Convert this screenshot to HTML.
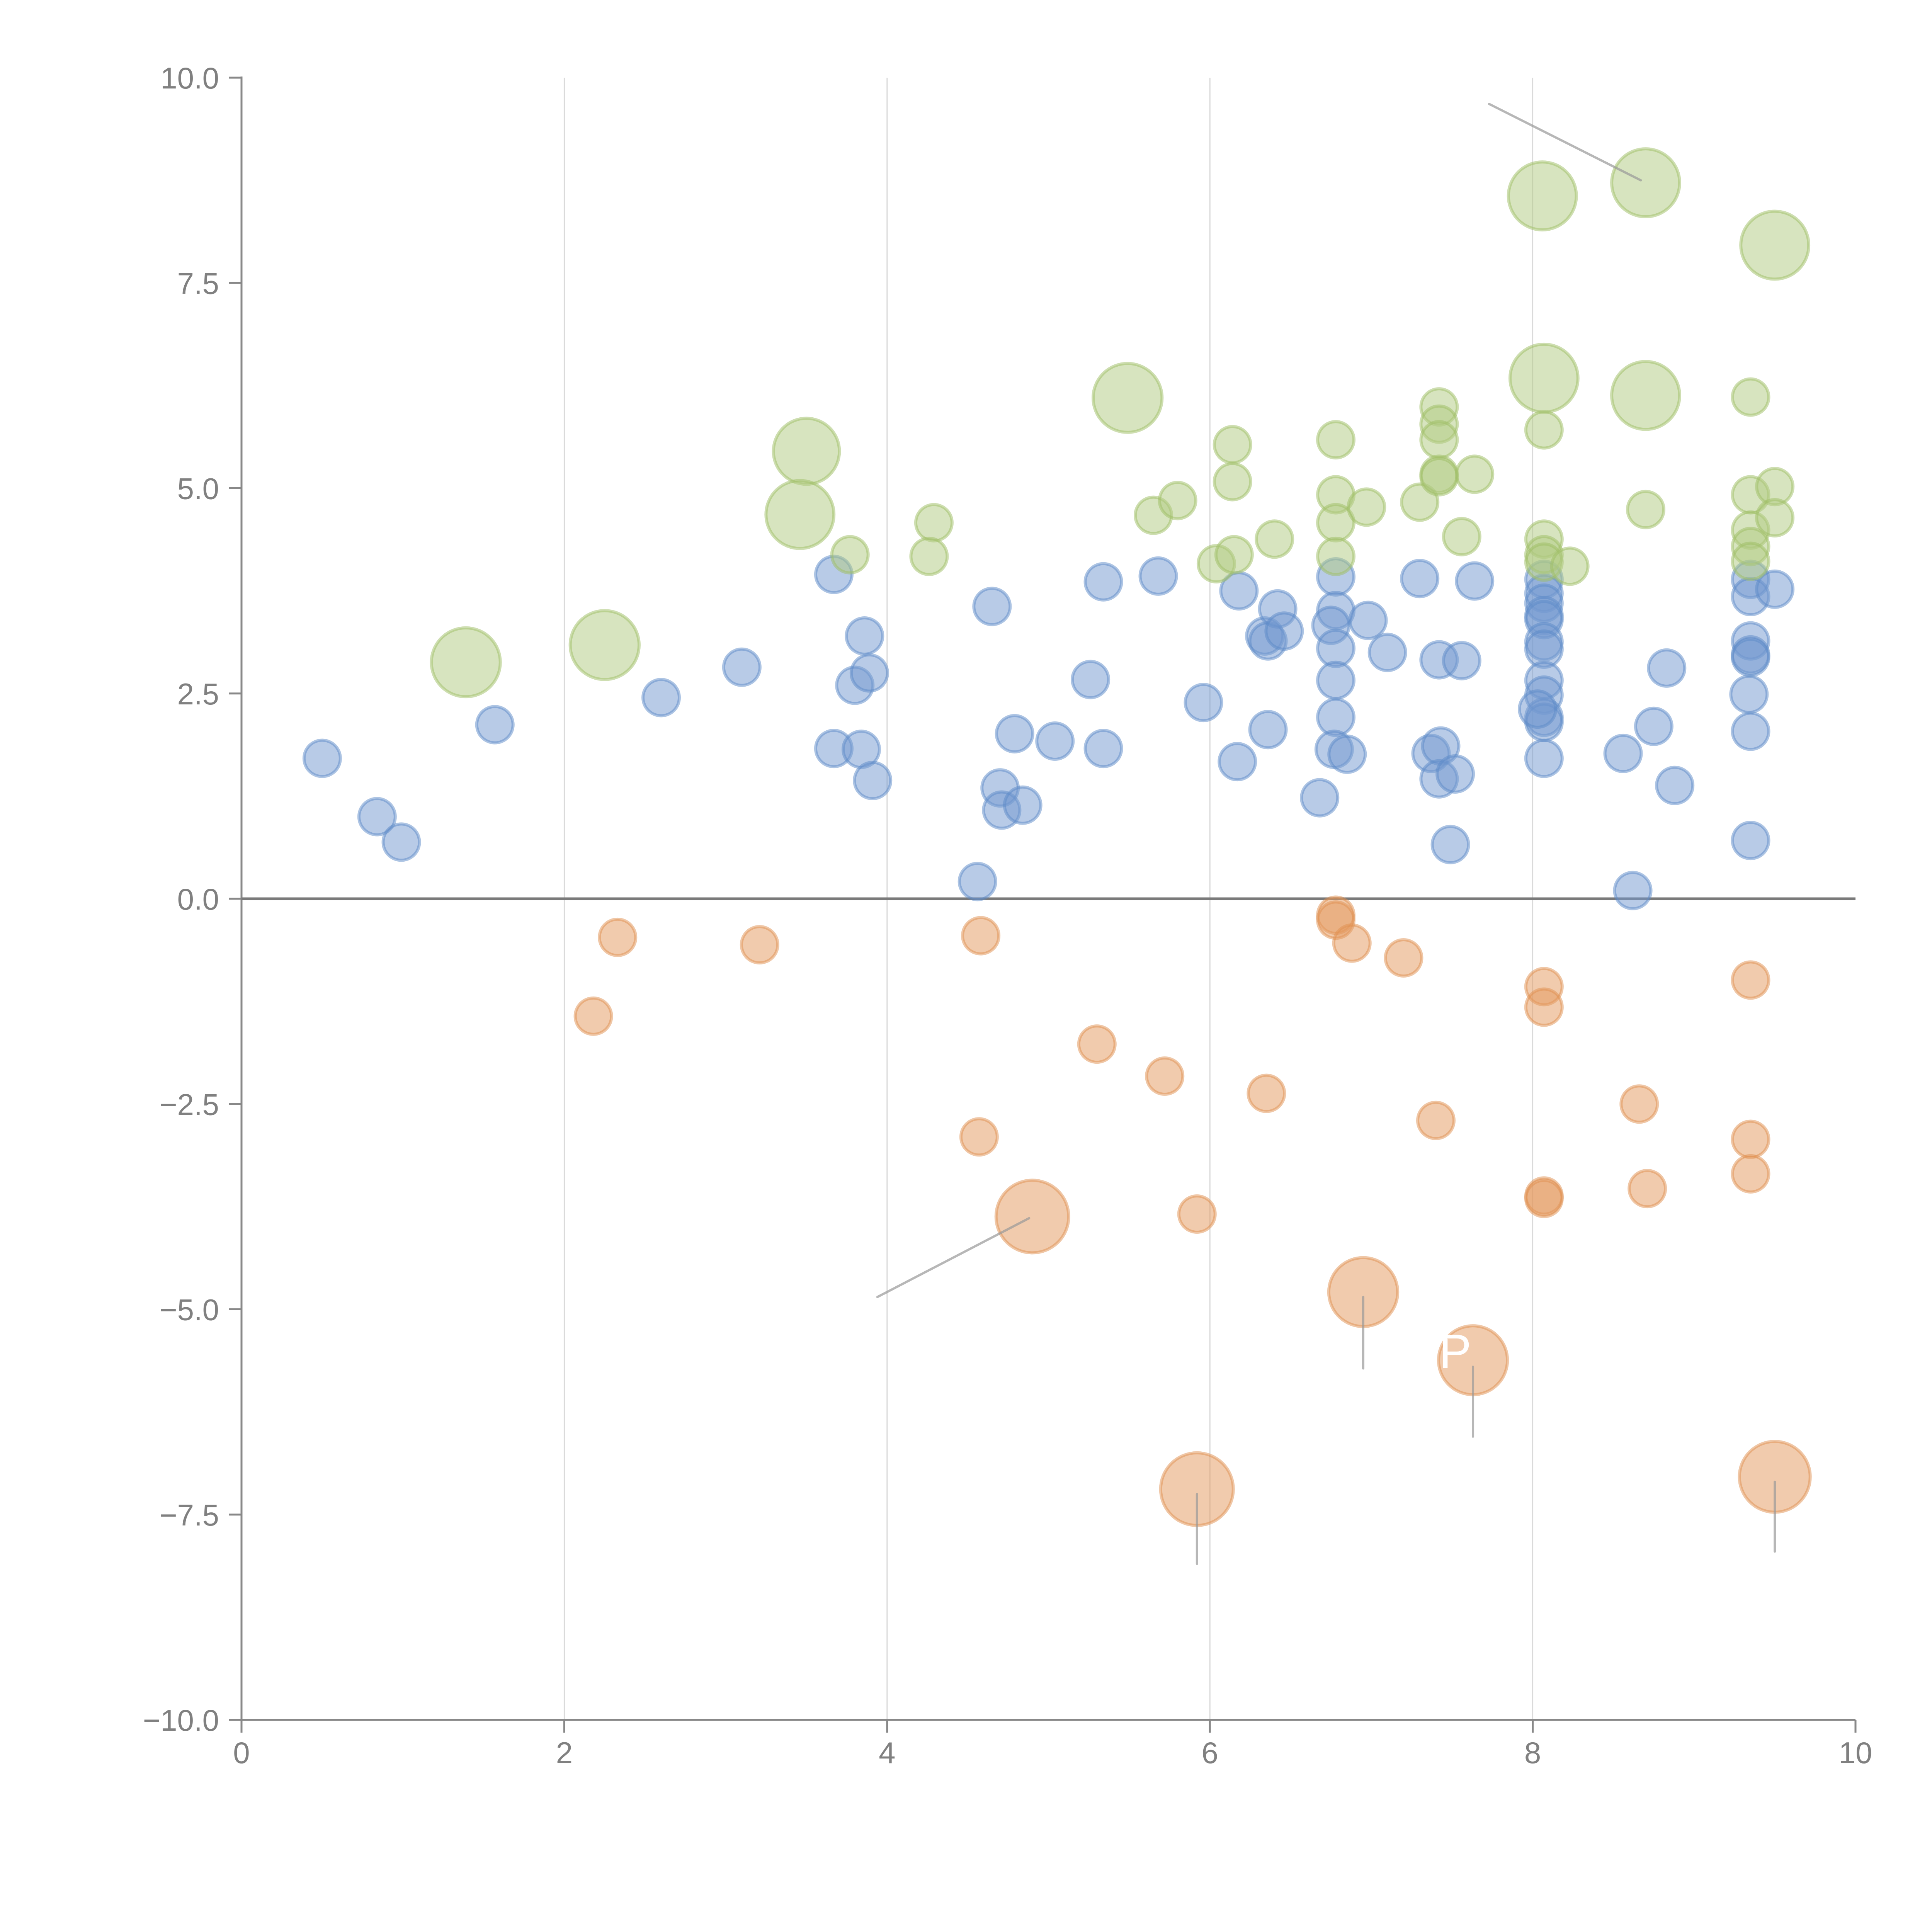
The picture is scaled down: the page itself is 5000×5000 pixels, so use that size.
<!DOCTYPE html>
<html><head><meta charset="utf-8"><style>
html,body{margin:0;padding:0;background:#fff;}
svg{display:block;}
text{font-family:"Liberation Sans",Arial,sans-serif;}
</style></head><body>
<svg id="chart" width="5000" height="5000" viewBox="0 0 5000 5000" xmlns="http://www.w3.org/2000/svg">
<g id="grid"></g>
<g id="axes"></g>
<g id="bubbles"></g>
<g id="leaders"></g>
<g id="labels"></g>
</svg>
<script>
const xTicks = [0, 2, 4, 6, 8, 10];
const yTicks = [-10, -7.5, -5, -2.5, 0, 2.5, 5, 7.5, 10];
const yTickLabels = ["\u221210.0","\u22127.5","\u22125.0","\u22122.5","0.0","2.5","5.0","7.5","10.0"];
const xTickLabels = ["0","2","4","6","8","10"];

const blueX = [0.50,0.84,0.99,1.57,2.60,3.10,3.67,3.86,3.80,3.89,3.67,3.84,3.91,4.56,4.65,4.70,4.71,4.84,4.79,5.04,5.26,5.34,5.34,5.68,5.96,6.18,6.17,6.36,6.34,6.36,6.42,6.46,6.68,6.78,6.78,6.75,6.78,6.78,6.78,6.77,6.85,6.98,7.10,7.30,7.42,7.37,7.43,7.42,7.52,7.56,7.64,7.49,8.07,8.07,8.07,8.07,8.07,8.07,8.07,8.07,8.07,8.07,8.07,8.07,8.03,8.56,8.75,8.83,8.88,8.62,9.35,9.35,9.35,9.35,9.35,9.34,9.35,9.35,9.50];
const blueY = [1.71,1.00,0.69,2.12,2.45,2.82,3.95,3.20,2.60,2.75,1.83,1.82,1.44,0.21,3.56,1.35,1.08,1.14,2.01,1.92,2.67,3.86,1.83,3.93,2.39,3.75,1.67,2.06,3.20,3.14,3.53,3.26,1.23,3.92,3.51,3.33,3.05,2.66,2.21,1.82,1.76,3.39,3.00,3.90,2.91,1.77,1.86,1.46,1.52,2.90,3.87,0.66,3.89,3.72,3.60,3.45,3.40,3.13,3.04,2.66,2.48,2.21,2.15,1.71,2.31,1.77,2.10,2.81,1.38,0.10,3.89,3.68,3.14,2.97,2.94,2.49,2.04,0.71,3.77];
const blueSize = new Array(blueX.length).fill(1);

const orangeX = [2.33,2.18,3.21,4.58,4.57,5.30,5.72,5.92,6.35,6.78,6.78,6.88,7.20,7.40,8.07,8.07,8.07,8.07,8.66,8.71,9.35,9.35,9.35,4.90,6.95,7.63,5.92,9.50];
const orangeY = [-0.47,-1.43,-0.56,-0.45,-2.90,-1.77,-2.16,-3.84,-2.37,-0.20,-0.26,-0.54,-0.72,-2.70,-1.07,-1.32,-3.62,-3.65,-2.50,-3.53,-0.99,-2.93,-3.35,-3.87,-4.79,-5.62,-7.19,-7.04];
const orangeSize = [1,1,1,1,1,1,1,1,1,1,1,1,1,1,1,1,1,1,1,1,1,1,1,4,3.6,3.6,4,3.8];

const greenX = [3.77,4.29,4.26,5.65,5.80,6.04,6.14,6.14,6.15,6.40,6.78,6.78,6.78,6.78,6.97,7.30,7.42,7.42,7.42,7.42,7.42,7.64,7.56,8.07,8.07,8.07,8.07,8.23,8.70,9.35,9.35,9.35,9.35,9.35,9.50,9.50,1.39,2.25,3.50,3.46,5.49,8.06,8.07,8.70,8.70,9.50];
const greenY = [4.19,4.58,4.17,4.67,4.85,4.08,5.53,5.08,4.19,4.38,5.59,4.92,4.58,4.17,4.77,4.83,5.99,5.78,5.59,5.17,5.14,5.17,4.41,5.71,4.38,4.19,4.10,4.05,4.74,6.11,4.92,4.49,4.29,4.11,5.02,4.64,2.88,3.09,5.45,4.68,6.10,8.56,6.34,8.72,6.13,7.96];
const greenSize = [1,1,1,1,1,1,1,1,1,1,1,1,1,1,1,1,1,1,1,1,1,1,1,1,1,1,1,1,1,1,1,1,1,1,1,1,3.6,3.6,3.3,3.5,3.6,3.5,3.5,3.5,3.5,3.5];

const leaderX1 = [3.94,6.95,7.63,5.92,9.50,7.73];
const leaderY1 = [-4.85,-4.85,-5.70,-7.25,-7.10,9.68];
const leaderX2 = [4.88,6.95,7.63,5.92,9.50,8.67];
const leaderY2 = [-3.89,-5.72,-6.55,-8.10,-7.95,8.75];

const X0=625, X1=4802, Y0=4451, Y1=201;
const sx = v => X0 + (v-0)/(10-0)*(X1-X0);
const sy = v => Y0 - (v+10)/20*(Y0-Y1);
const rs = s => 47*Math.sqrt(s);
const NS="http://www.w3.org/2000/svg";
function mk(tag, attrs, parent){const e=document.createElementNS(NS,tag);for(const k in attrs)e.setAttribute(k,attrs[k]);parent.appendChild(e);return e;}

const grid=document.getElementById('grid'), axes=document.getElementById('axes'), bub=document.getElementById('bubbles'), lead=document.getElementById('leaders'), lab=document.getElementById('labels');

xTicks.forEach((t,i)=>{
  if(t>0 && t<10){
    const g=mk('line',{x1:sx(t),x2:sx(t),y1:Y1,y2:Y0,stroke:'#d9d9d9','stroke-width':3},grid);
    
    
  }
  const tk=mk('line',{x1:sx(t),x2:sx(t),y1:Y0,y2:Y0+33,stroke:'#888','stroke-width':5},axes);
  
  
  const tx=mk('text',{x:sx(t),y:Y0+112,'text-anchor':'middle','font-size':78,fill:'#808080'},axes);
  tx.textContent=xTickLabels[i];
  
  
});
yTicks.forEach((t,i)=>{
  const tk=mk('line',{x1:X0-33,x2:X0,y1:sy(t),y2:sy(t),stroke:'#888','stroke-width':5},axes);
  
  
  const tx=mk('text',{x:X0-58,y:sy(t)+28,'text-anchor':'end','font-size':78,fill:'#808080'},axes);
  tx.textContent=yTickLabels[i];
  
  
});
const ya=mk('line',{x1:X0,x2:X0,y1:Y1-3,y2:Y0,stroke:'#888','stroke-width':5},axes);


const xa=mk('line',{x1:X0,x2:X1,y1:Y0,y2:Y0,stroke:'#888','stroke-width':5},axes);


const zl=mk('line',{x1:X0,x2:X1,y1:sy(0),y2:sy(0),stroke:'#7a7a7a','stroke-width':7},axes);



function series(xs,ys,ss,fill,stroke,name){
  xs.forEach((x,i)=>{
    const c=mk('circle',{cx:sx(x),cy:sy(ys[i]),r:rs(ss[i]),fill:fill,'fill-opacity':0.5,stroke:stroke,'stroke-opacity':0.5,'stroke-width':8},bub);
    
    
  });
}
series(blueX,blueY,blueSize,'#7198cf','#5c89c8','bubble-blue');
series(orangeX,orangeY,orangeSize,'#e3985c','#e0904f','bubble-orange');
series(greenX,greenY,greenSize,'#afc97f','#9dbd63','bubble-green');

leaderX1.forEach((x,i)=>{
  const l=mk('line',{x1:sx(x),y1:sy(leaderY1[i]),x2:sx(leaderX2[i]),y2:sy(leaderY2[i]),stroke:'#999','stroke-opacity':0.7,'stroke-width':6,'stroke-linecap':'round'},lead);
  
  
});
const p=mk('text',{x:sx(7.42),y:sy(-5.62)+20,'font-size':125,fill:'#ffffff'},lab);
p.textContent='P';


</script>
</body></html>
